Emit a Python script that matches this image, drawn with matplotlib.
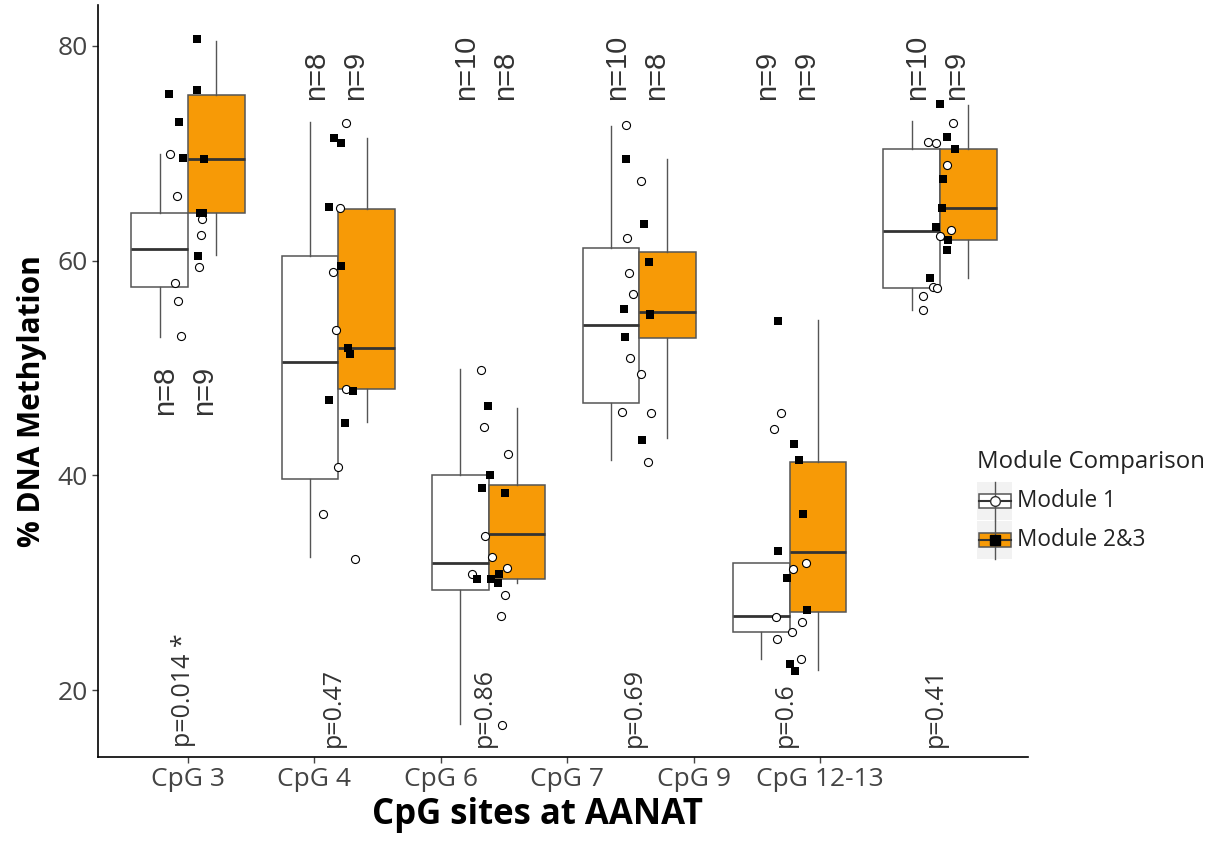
import numpy as np
import matplotlib.pyplot as plt
from matplotlib.patches import Rectangle

plt.rcParams['font.family'] = ['Open Sans', 'DejaVu Sans']

# Categories and annotations
sites = ["CpG 3", "CpG 4", "CpG 6", "CpG 7", "CpG 9", "CpG 12-13"]
p_labels = ["p=0.014 *", "p=0.47", "p=0.86", "p=0.69", "p=0.6", "p=0.41"]
n_mod1 = [8, 8, 10, 10, 9, 10]
n_mod23 = [9, 9, 8, 8, 9, 9]
n_label_y = [45.6, 74.9, 74.9, 74.9, 74.9, 74.9]

# Box statistics (whisker low, q1, median, q3, whisker high)
mod1_box = [
    [52.9, 57.5, 61.1, 64.4, 69.9],
    [32.4, 39.7, 50.6, 60.4, 72.9],
    [16.9, 29.3, 31.9, 40.0, 49.9],
    [41.4, 46.7, 54.0, 61.2, 72.5],
    [22.9, 25.4, 26.9, 31.9, 31.9],
    [55.4, 57.4, 62.7, 70.4, 73.0],
]
mod23_box = [
    [60.5, 64.4, 69.4, 75.4, 80.4],
    [45.0, 48.0, 51.9, 64.8, 71.4],
    [30.0, 30.4, 34.6, 39.1, 46.3],
    [43.5, 52.8, 55.2, 60.8, 69.4],
    [21.9, 27.3, 32.9, 41.3, 54.5],
    [58.4, 61.9, 64.9, 70.4, 74.5],
]

# Individual samples (value, jitter offset)
mod1_vals = [
    [69.9, 66.0, 63.9, 62.4, 59.4, 57.9, 56.2, 53.0],
    [72.8, 64.9, 58.9, 53.5, 48.0, 40.8, 36.4, 32.2],
    [49.8, 44.5, 42.0, 34.4, 32.4, 31.4, 30.8, 28.9, 26.9, 16.8],
    [72.6, 67.4, 62.1, 58.8, 56.9, 50.9, 49.4, 45.9, 45.8, 41.3],
    [45.8, 44.3, 31.9, 31.3, 26.8, 26.4, 25.4, 24.8, 22.9],
    [72.8, 71.0, 70.9, 68.9, 62.3, 62.8, 57.5, 57.4, 56.7, 55.4],
]
mod1_jit = [
    [-0.118, -0.073, 0.095, 0.086, 0.075, -0.086, -0.064, -0.047],
    [0.053, 0.009, -0.035, -0.013, 0.053, -0.005, -0.104, 0.108],
    [-0.049, -0.031, 0.128, -0.025, 0.020, 0.120, -0.113, 0.111, 0.082, 0.091],
    [-0.086, 0.009, -0.078, -0.068, -0.038, -0.062, 0.015, -0.115, 0.080, 0.060],
    [-0.060, -0.104, 0.111, 0.022, -0.093, 0.080, 0.018, -0.082, 0.073],
    [0.084, -0.078, -0.027, 0.045, 0.0, 0.071, -0.045, -0.020, -0.115, -0.111],
]
mod23_vals = [
    [80.6, 75.5, 75.9, 72.9, 69.5, 69.4, 64.4, 64.4, 60.4],
    [71.4, 70.9, 65.0, 59.5, 51.9, 51.3, 47.9, 47.0, 44.9],
    [46.5, 40.0, 38.8, 38.4, 30.4, 30.4, 30.8, 30.0],
    [69.4, 63.4, 59.9, 55.5, 54.9, 52.9, 43.3, 55.0],
    [54.4, 42.9, 41.4, 36.4, 33.0, 30.5, 27.5, 22.5, 21.8],
    [74.6, 71.5, 70.4, 67.6, 64.9, 63.1, 61.9, 61.0, 58.4],
]
mod23_jit = [
    [0.058, -0.124, 0.060, -0.058, -0.031, 0.104, 0.080, 0.100, 0.068],
    [-0.027, 0.020, -0.062, 0.015, 0.062, 0.075, 0.098, -0.064, 0.047],
    [-0.005, 0.009, -0.045, 0.111, -0.075, 0.018, 0.066, 0.060],
    [-0.086, 0.031, 0.066, -0.102, 0.075, -0.091, 0.018, 0.073],
    [-0.078, 0.029, 0.064, 0.086, -0.080, -0.015, 0.113, 0.0, 0.033],
    [0.0, 0.049, 0.098, 0.022, 0.013, -0.027, 0.055, 0.049, -0.066],
]

orange = "#F79A06"
edge = "#555555"

fig = plt.figure(figsize=(12.11, 8.41), dpi=100)
ax = fig.add_axes([98 / 1211, 1 - 757 / 841, 930 / 1211, 752 / 841])

pos = np.arange(len(sites))
dodge = 0.188
width = 0.376


def make_stats(rows):
    return [dict(whislo=r[0], q1=r[1], med=r[2], q3=r[3], whishi=r[4], fliers=[])
            for r in rows]


for rows, offs, face in [(mod1_box, -dodge, "white"), (mod23_box, dodge, orange)]:
    ax.bxp(make_stats(rows), positions=pos + offs, widths=width,
           patch_artist=True, showcaps=False, showfliers=False,
           boxprops=dict(facecolor=face, edgecolor=edge, linewidth=1.1),
           whiskerprops=dict(color=edge, linewidth=1.0),
           medianprops=dict(color="#333333", linewidth=2.0),
           zorder=2)

for i in range(len(sites)):
    ax.plot(pos[i] + np.array(mod1_jit[i]), mod1_vals[i], 'o', ms=5.8,
            mfc="white", mec="black", mew=0.8, zorder=4)
    ax.plot(pos[i] + np.array(mod23_jit[i]), mod23_vals[i], 's', ms=6,
            mfc="black", mec="black", mew=0, zorder=5)

    ax.text(pos[i] - 0.15, n_label_y[i], f"n={n_mod1[i]}", rotation=90,
            ha="center", va="bottom", fontsize=21, color="#333333",
            family="Liberation Sans")
    ax.text(pos[i] + 0.11, n_label_y[i], f"n={n_mod23[i]}", rotation=90,
            ha="center", va="bottom", fontsize=21, color="#333333",
            family="Liberation Sans")
    ax.text(pos[i] - 0.03, 14.75, p_labels[i], rotation=90, ha="center",
            va="bottom", fontsize=18, color="#333333")

# axis ticks sit on a narrower spacing than the boxes
tick_step = 126.4 / 150.4
ax.set_xticks(pos * tick_step)
ax.set_xticklabels(sites)
ax.set_yticks([20, 40, 60, 80])
ax.set_xlim(-0.598, 5.585)
ax.set_ylim(13.81, 83.77)

for s in ["top", "right"]:
    ax.spines[s].set_visible(False)
for s in ["left", "bottom"]:
    ax.spines[s].set_linewidth(1.2)
    ax.spines[s].set_color("black")
ax.tick_params(axis="both", labelsize=19, labelcolor="#444444", color="#444444",
               length=4, width=1)

fig.text(537 / 1211, 1 - 815 / 841, "CpG sites at AANAT", ha="center", va="center",
         fontsize=25, fontweight="bold")
fig.text(32 / 1211, 1 - 401 / 841, "% DNA Methylation", ha="center", va="center",
         rotation=90, fontsize=21.5, fontweight="bold")

# Legend
lg = fig.add_axes([0, 0, 1, 1], zorder=10)
lg.set_xlim(0, 1211)
lg.set_ylim(841, 0)
lg.axis("off")
lg.text(977, 462, "Module Comparison", ha="left", va="center", fontsize=17.3,
        color="#222222")
for yc, face, mk in [(501, "white", "o"), (540, orange, "s")]:
    lg.add_patch(Rectangle((977, yc - 19), 35, 38, facecolor="#f2f2f2",
                           edgecolor="none"))
    lg.plot([995, 995], [yc - 19, yc + 19], color=edge, lw=1.0)
    lg.add_patch(Rectangle((979, yc - 7), 32, 14, facecolor=face,
                           edgecolor=edge, lw=1.1))
    lg.plot([979, 1011], [yc, yc], color="#333333", lw=1.5)
    if mk == "o":
        lg.plot(995, yc, 'o', ms=7, mfc="white", mec="#333333", mew=1.0)
    else:
        lg.plot(995, yc, 's', ms=7, mfc="black", mec="black")
    lg.text(1017, yc, "Module 1" if mk == "o" else "Module 2&3", ha="left",
            va="center", fontsize=16.3, color="#222222")

fig.savefig("out.png", dpi=100)
